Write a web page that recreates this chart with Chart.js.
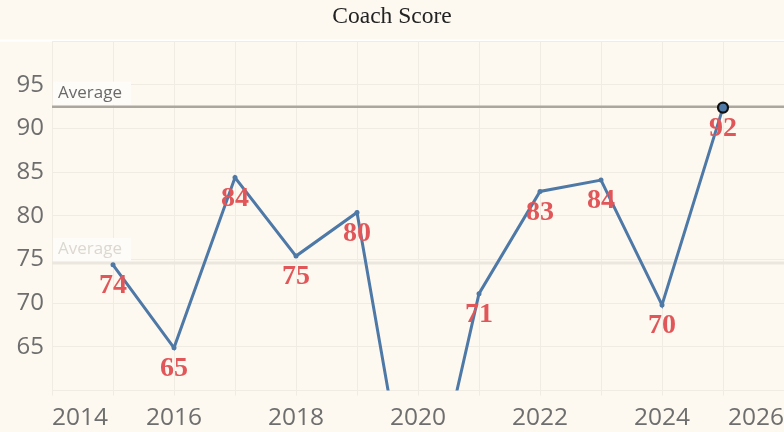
<!DOCTYPE html>
<html>
<head>
<meta charset="utf-8">
<script src="https://cdn.jsdelivr.net/npm/chart.js@4.4.1/dist/chart.umd.min.js"></script>
<style>
  html, body { margin: 0; padding: 0; background: #fdf9f1; overflow: hidden; }
</style>
</head>
<body>
<canvas id="chart" width="784" height="432"></canvas>
<script>
const years = [2015, 2016, 2017, 2018, 2019, 2020, 2021, 2022, 2023, 2024, 2025];
const scores = [74.4, 64.9, 84.4, 75.4, 80.4, 40.4, 71.1, 82.8, 84.1, 69.8, 92.4];
const gridYears = [2014, 2015, 2016, 2017, 2018, 2019, 2020, 2021, 2022, 2023, 2024, 2025, 2026];
const labelYears = [2014, 2016, 2018, 2020, 2022, 2024, 2026];
const yTicks = [60, 65, 70, 75, 80, 85, 90, 95, 100];
const yLabels = [65, 70, 75, 80, 85, 90, 95];
const averageValues = [92.5, 74.6];

const LINE = '#4e79a7';
const BG = '#fdf9f1';

const avgStyles = [
  { line: '#aba69e', text: '#6a6a6a', width: 2.5 },
  { line: '#ebe7df', text: '#dcd8d0', width: 3 },
];

const chromePlugin = {
  id: 'chrome',
  beforeDraw(chart) {
    const ctx = chart.ctx;
    ctx.save();
    ctx.fillStyle = BG;
    ctx.fillRect(0, 0, chart.width, chart.height);
    ctx.fillStyle = '#ffffff';
    ctx.fillRect(0, 39.5, chart.width, 2.2);
    ctx.restore();
  },
  beforeDatasetsDraw(chart) {
    const ctx = chart.ctx;
    const area = chart.chartArea;
    const y = chart.scales.y;
    ctx.save();
    averageValues.forEach((v, i) => {
      const st = avgStyles[i];
      const py = y.getPixelForValue(v);
      ctx.fillStyle = '#fefcf8';
      ctx.fillRect(area.left + 1, py - 25, 78, 23);
      ctx.strokeStyle = st.line;
      ctx.lineWidth = st.width;
      ctx.beginPath();
      ctx.moveTo(area.left, py);
      ctx.lineTo(area.right, py);
      ctx.stroke();
      ctx.fillStyle = st.text;
      ctx.font = '17px "Open Sans"';
      ctx.textAlign = 'left';
      ctx.textBaseline = 'alphabetic';
      ctx.fillText('Average', area.left + 6, py - 9);
    });
    ctx.restore();
  },
  afterDatasetsDraw(chart) {
    const ctx = chart.ctx;
    const area = chart.chartArea;
    const meta = chart.getDatasetMeta(0);
    ctx.save();
    ctx.fillStyle = '#e15759';
    ctx.font = 'bold 28px "Liberation Serif"';
    ctx.textAlign = 'center';
    ctx.textBaseline = 'middle';
    meta.data.forEach((pt, i) => {
      if (pt.y > area.bottom || pt.y < area.top) return;
      ctx.fillText(String(Math.round(scores[i])), pt.x, pt.y + 21);
    });
    ctx.restore();
  }
};

const last = scores.length - 1;

new Chart(document.getElementById('chart'), {
  type: 'line',
  data: {
    datasets: [
      {
        label: 'Coach Score',
        data: years.map((yr, i) => ({ x: yr, y: scores[i] })),
        borderColor: LINE,
        borderWidth: 3,
        backgroundColor: LINE,
        pointBackgroundColor: LINE,
        pointRadius: (c) => c.dataIndex === last ? 5 : 2.5,
        pointBorderWidth: (c) => c.dataIndex === last ? 2.2 : 0,
        pointBorderColor: (c) => c.dataIndex === last ? '#111111' : LINE,
        tension: 0,
        fill: false,
      },
    ],
  },
  options: {
    responsive: false,
    animation: false,
    layout: { padding: 0, autoPadding: false },
    plugins: {
      legend: { display: false },
      tooltip: { enabled: false },
      title: {
        display: true,
        text: 'Coach Score',
        color: '#222222',
        font: { family: '"Liberation Serif"', size: 23.5, weight: 'normal' },
        padding: { top: 3, bottom: 10 },
      },
    },
    scales: {
      x: {
        type: 'linear',
        min: 2014,
        max: 2026,
        afterBuildTicks: (scale) => {
          scale.ticks = gridYears.map((v) => ({ value: v }));
        },
        afterFit: (scale) => {
          scale.height = 41.4;
          scale.paddingLeft = 0;
          scale.paddingRight = 0;
        },
        grid: { color: '#f0ece4', lineWidth: 1, drawTicks: true, tickLength: 5 },
        border: { display: true, color: '#f0ece4' },
        ticks: {
          autoSkip: false,
          maxRotation: 0,
          align: 'inner',
          padding: 8,
          color: '#6e6e6e',
          font: { family: '"Open Sans"', size: 24.5 },
          callback: (v) => labelYears.includes(v) ? String(v) : '',
        },
      },
      y: {
        min: 60,
        max: 100,
        afterBuildTicks: (scale) => {
          scale.ticks = yTicks.map((v) => ({ value: v }));
        },
        afterFit: (scale) => { scale.width = 52; },
        grid: { color: '#f0ece4', lineWidth: 1, drawTicks: false },
        border: { display: true, color: '#f0ece4' },
        ticks: {
          padding: 8,
          color: '#6e6e6e',
          font: { family: '"Open Sans"', size: 24 },
          callback: (v) => yLabels.includes(v) ? String(v) : '',
        },
      },
    },
  },
  plugins: [chromePlugin],
});
</script>
</body>
</html>
